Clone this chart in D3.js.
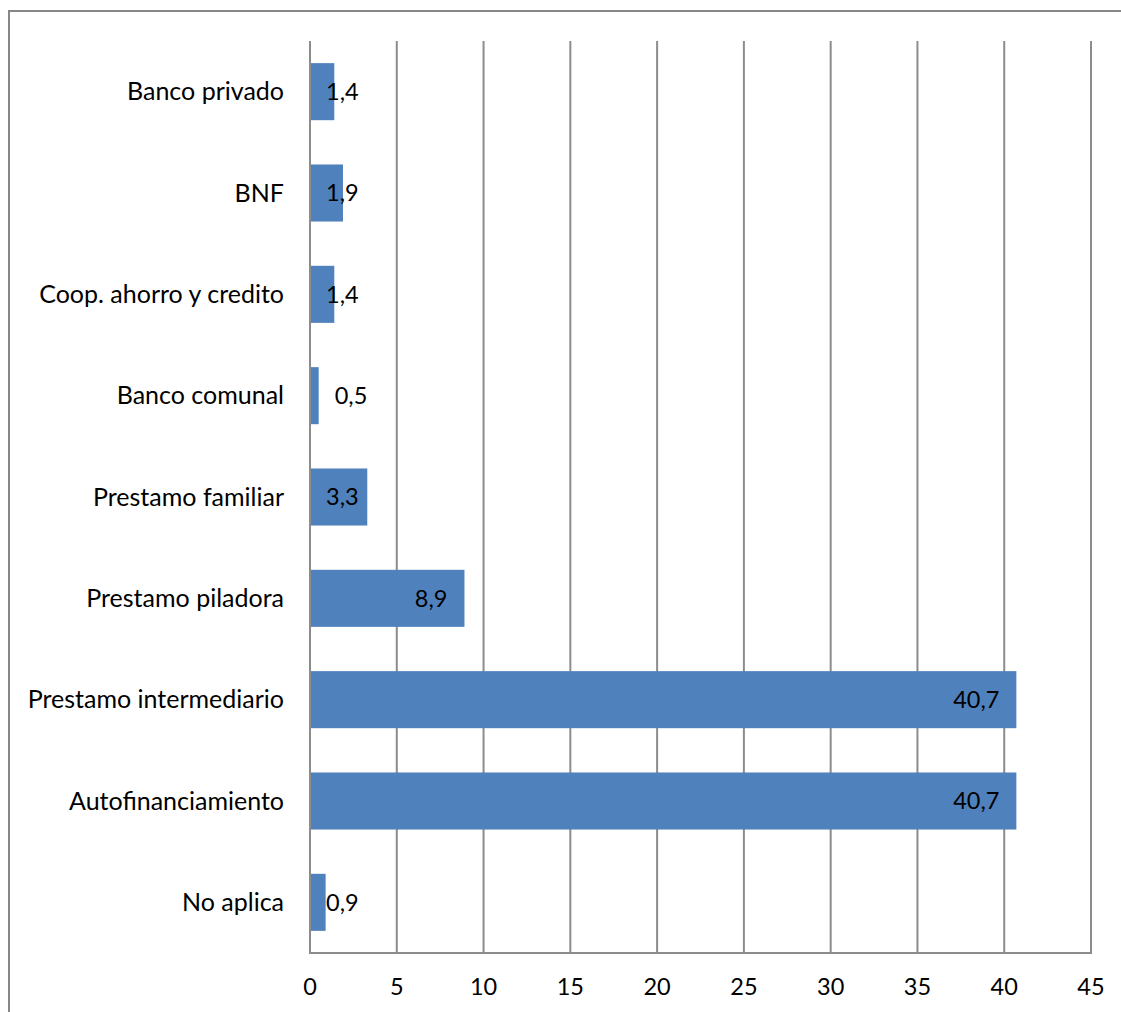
<!DOCTYPE html>
<html><head><meta charset="utf-8">
<script src="https://cdn.jsdelivr.net/npm/d3@7"></script>
<style>
html,body{margin:0;padding:0;background:#fff;}
text{font-family:Lato, "Open Sans", sans-serif;fill:#000;}
</style></head>
<body>
<svg id="chart" width="1121" height="1012"></svg>
<script>
const categories = ["Banco privado","BNF","Coop. ahorro y credito","Banco comunal","Prestamo familiar","Prestamo piladora","Prestamo intermediario","Autofinanciamiento","No aplica"];
const values = [1.4,1.9,1.4,0.5,3.3,8.9,40.7,40.7,0.9];
const tickValues = [0,5,10,15,20,25,30,35,40,45];

const svg = d3.select("#chart");
const pLeft = 310, pRight = 1091, pTop = 41, pBottom = 953;
const fs = 23.5, fsCat = 25;

svg.append("rect").attr("x",9).attr("y",11).attr("width",1130).attr("height",1030)
  .attr("fill","none").attr("stroke","#878787").attr("stroke-width",2);

const x = d3.scaleLinear().domain([0,45]).range([pLeft,pRight]);
const y = d3.scaleBand().domain(categories).range([pTop,pBottom]).paddingInner(0.437).paddingOuter(0.2185);

// gridlines
svg.append("g").selectAll("line").data(tickValues.slice(1)).join("line")
  .attr("x1",d=>x(d)).attr("x2",d=>x(d)).attr("y1",pTop).attr("y2",pBottom)
  .attr("stroke","#8c8c8c").attr("stroke-width",2);

// bars
svg.append("g").selectAll("rect").data(values).join("rect")
  .attr("x",x(0)).attr("y",(d,i)=>y(categories[i]))
  .attr("width",d=>x(d)-x(0)).attr("height",y.bandwidth())
  .attr("fill","#4f81bd");

// axes lines
svg.append("line").attr("x1",pLeft).attr("x2",pLeft).attr("y1",pTop).attr("y2",pBottom)
  .attr("stroke","#8c8c8c").attr("stroke-width",2);
svg.append("line").attr("x1",pLeft-1).attr("x2",pRight+1).attr("y1",pBottom).attr("y2",pBottom)
  .attr("stroke","#8c8c8c").attr("stroke-width",2);

// x tick labels
svg.append("g").selectAll("text").data(tickValues).join("text")
  .attr("x",d=>x(d)).attr("y",987).attr("dy","0.35em").attr("text-anchor","middle")
  .attr("font-size",fs).text(d=>d);

// category labels
svg.append("g").selectAll("text").data(categories).join("text")
  .attr("x",pLeft-26).attr("y",d=>y(d)+y.bandwidth()/2).attr("dy","0.35em")
  .attr("text-anchor","end").attr("font-size",fsCat).text(d=>d);

// data labels
const fmt = v => String(v.toFixed(1)).replace(".",",");
const lbl = svg.append("g");
values.forEach((v,i)=>{
  const t = lbl.append("text").attr("font-size",fs).attr("dy","0.35em")
    .attr("y",y(categories[i])+y.bandwidth()/2).text(fmt(v));
  const w = t.node().getComputedTextLength();
  const bw = x(v)-x(0);
  if (bw < 12) {
    t.attr("x",x(v)+16).attr("text-anchor","start");
  } else {
    const lx = Math.max(x(0)+16, x(v)-17-w);
    t.attr("x",lx).attr("text-anchor","start");
  }
});
</script>
</body></html>
